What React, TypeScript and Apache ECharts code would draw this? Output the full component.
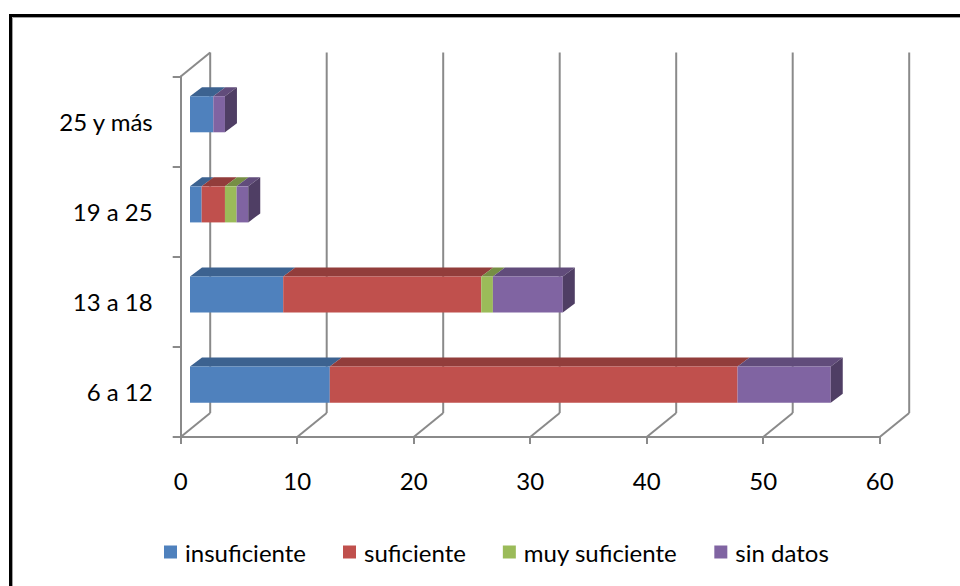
import React, { useEffect, useRef } from "react";
import * as echarts from "echarts";

const categories = ["6 a 12", "13 a 18", "19 a 25", "25 y más"];
const seriesNames = ["insuficiente", "suficiente", "muy suficiente", "sin datos"];
const insuficiente = [12, 8, 1, 2];
const suficiente = [35, 17, 2, 0];
const muySuficiente = [0, 1, 1, 0];
const sinDatos = [8, 6, 1, 1];
const xTicks = [0, 10, 20, 30, 40, 50, 60];
const colors = ["#4F81BD", "#C0504D", "#9BBB59", "#8064A2"];

const FONT = "Lato, 'Open Sans', sans-serif";
const TEXT = "#000000";
const FRAME = "#8a8a8a";
// 3D projection offsets
const WALL_DX = 29.5;
const WALL_DY = -24;
const BAR_OX = 9.3;
const BAR_OY = -7.3;
const BAR_DX = 12;
const BAR_DY = -9;

function shade(hex: string, f: number) {
  const n = parseInt(hex.slice(1), 16);
  const r = Math.round(((n >> 16) & 255) * f);
  const g = Math.round(((n >> 8) & 255) * f);
  const b = Math.round((n & 255) * f);
  return `rgb(${r},${g},${b})`;
}

export default function App() {
  const ref = useRef<HTMLDivElement>(null);
  useEffect(() => {
    if (!ref.current) return;
    const chart = echarts.init(ref.current, null, { renderer: "svg" });
    const values = [insuficiente, suficiente, muySuficiente, sinDatos];
    const totals = categories.map((_, i) => values.reduce((a, s) => a + s[i], 0));
    const stackData = values.map((vals, si) =>
      vals.map((v, i) => {
        let start = 0;
        for (let k = 0; k < si; k++) start += values[k][i];
        const end = start + v;
        return [start, end, i, v > 0 && end === totals[i] ? 1 : 0];
      })
    );

    const barRender = (color: string) => {
      const top = shade(color, 0.76);
      const side = shade(color, 0.62);
      return (params: any, api: any) => {
        const s = api.value(0);
        const e = api.value(1);
        const c = api.value(2);
        const last = api.value(3);
        if (e - s <= 0) return null;
        const p0 = api.coord([s, c]);
        const p1 = api.coord([e, c]);
        const h = api.size([0, 1])[1] * 0.4;
        const x0 = p0[0] + BAR_OX;
        const x1 = p1[0] + BAR_OX;
        const yt = p0[1] + BAR_OY - h / 2;
        const yb = yt + h;
        const children: any[] = [
          {
            type: "polygon",
            shape: { points: [[x0, yt], [x1, yt], [x1 + BAR_DX, yt + BAR_DY], [x0 + BAR_DX, yt + BAR_DY]] },
            style: { fill: top },
          },
          { type: "rect", shape: { x: x0, y: yt, width: x1 - x0, height: h }, style: { fill: color } },
        ];
        if (last) {
          children.push({
            type: "polygon",
            shape: { points: [[x1, yt], [x1 + BAR_DX, yt + BAR_DY], [x1 + BAR_DX, yb + BAR_DY], [x1, yb]] },
            style: { fill: side },
          });
        }
        return { type: "group", children };
      };
    };

    const frameRender = (params: any, api: any) => {
      const v = api.value(0);
      const cs = params.coordSys;
      const x = api.coord([v, 0])[0];
      const yb = cs.y + cs.height;
      const yt = cs.y;
      const st = { stroke: FRAME, lineWidth: 2 };
      const children: any[] = [
        { type: "line", shape: { x1: x, y1: yb, x2: x + WALL_DX, y2: yb + WALL_DY }, style: st },
        { type: "line", shape: { x1: x + WALL_DX, y1: yb + WALL_DY, x2: x + WALL_DX, y2: yt + WALL_DY }, style: st },
      ];
      if (v === xTicks[0]) {
        children.push({ type: "line", shape: { x1: cs.x, y1: yt, x2: cs.x + WALL_DX, y2: yt + WALL_DY }, style: st });
      }
      return { type: "group", children };
    };

    const option: any = {
      animation: false,
      backgroundColor: "#ffffff",
      textStyle: { fontFamily: FONT },
      grid: { left: 180.7, right: 80.3, top: 76.5, bottom: 149, containLabel: false },
      xAxis: {
        type: "value",
        min: 0,
        max: 60,
        interval: 10,
        splitLine: { show: false },
        axisLine: { show: true, lineStyle: { color: FRAME, width: 2 } },
        axisTick: { show: true, length: 7, lineStyle: { color: FRAME, width: 2 } },
        axisLabel: { fontSize: 24, color: TEXT, margin: 31, fontFamily: FONT, formatter: (v: number) => String(v) },
      },
      yAxis: {
        type: "category",
        data: categories,
        axisLine: { show: true, lineStyle: { color: FRAME, width: 2 } },
        axisTick: { show: true, length: 8, lineStyle: { color: FRAME, width: 2 } },
        axisLabel: { fontSize: 24, color: TEXT, margin: 28, fontFamily: FONT, padding: [8, 0, 0, 0] },
        splitLine: { show: false },
      },
      legend: {
        data: seriesNames,
        left: 159,
        top: 535,
        icon: "rect",
        itemWidth: 13,
        itemHeight: 13,
        itemGap: 37,
        textStyle: { fontSize: 24, color: TEXT, fontFamily: FONT, padding: [0, 0, 0, 3] },
      },
      graphic: [
        { type: "rect", shape: { x: 10.5, y: 15.5, width: 1000, height: 1000 }, style: { fill: "none", stroke: "#000", lineWidth: 3 }, z: 100 },
        { type: "line", shape: { x1: 12.5, y1: 17.5, x2: 12.5, y2: 600 }, style: { stroke: "#a0a0a0", lineWidth: 1 }, z: 100 },
        { type: "line", shape: { x1: 12.5, y1: 17.5, x2: 970, y2: 17.5 }, style: { stroke: "#a0a0a0", lineWidth: 1 }, z: 100 },
      ],
      series: [
        {
          type: "custom",
          name: "frame",
          renderItem: frameRender,
          data: xTicks.map((v) => [v, 0]),
          encode: { x: 0, y: 1 },
          z: 1,
          silent: true,
        },
        ...seriesNames.map((name, si) => ({
          type: "custom",
          name,
          renderItem: barRender(colors[si]),
          data: stackData[si],
          encode: { x: [0, 1], y: 2 },
          itemStyle: { color: colors[si] },
          z: 3,
        })),
      ],
    };
    chart.setOption(option);
    return () => chart.dispose();
  }, []);
  return <div ref={ref} style={{ position: "absolute", left: 0, top: 0, width: 960, height: 586 }} />;
}
